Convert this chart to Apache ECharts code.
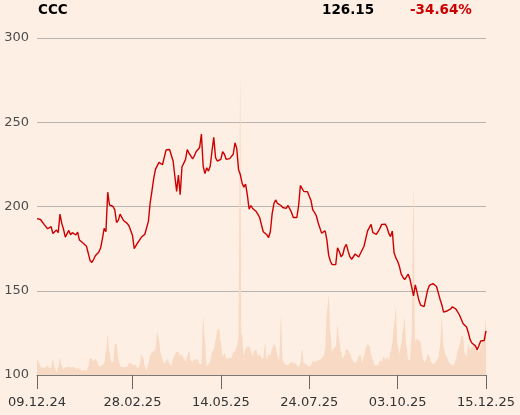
<!DOCTYPE html>
<html>
<head>
<meta charset="utf-8">
<script src="https://cdn.jsdelivr.net/npm/echarts@6/dist/echarts.min.js"></script>
<style>
html,body{margin:0;padding:0;background:#fdefe3;}
#c{width:520px;height:415px;}
</style>
</head>
<body>
<div id="c"></div>
<script>
const ticker = "CCC";
const lastPrice = "126.15";
const changePct = "-34.64%";
const tickLabels = ["09.12.24","28.02.25","14.05.25","24.07.25","03.10.25","15.12.25"];
const tickIdx = [0,54,104,154,204,254];
const price = [
192.8,192.6,192.3,190.8,189.4,188.8,186.8,187.4,188,184,
184.3,186,184.5,195.5,190,186.5,181.8,181.8,185.8,183.2,
184.5,184.2,183.1,184.8,180.1,180.4,178.3,177.5,176.4,176.2,
168,166.8,168.5,170.8,171.2,173,175.5,181,187,185,
208.5,201,200,200,198,190.5,191.8,195.5,193.5,191.7,
192,190,188.6,187.5,183,175,176,178.5,180,181.7,
182.4,183.5,183.2,191,202,209,216.5,222,221.8,226.2,
226.2,224.8,224.6,233.5,233.9,233.8,232.7,227,217.8,209,
218.7,207,223.4,223,227.8,233.8,231.6,230,228.2,230,
232.5,231.6,235,243,224,219.5,223,221,224,233,
241,229,227,226,228,232.5,231,228,227,228.4,
228.5,231,237.8,234.5,222,219,214,211.5,213.3,206.7,
198.4,200.6,198.8,199.1,197,195.3,193.3,189,185,184.2,
183.2,181.6,185,195.5,201.6,203.9,201.9,201.4,200.6,199.4,
198.9,198.9,200.6,201,196.5,193.5,192.5,193.5,200.5,212.5,
210.6,208.9,208.8,208.8,208.3,203.5,198,196.5,194.5,190.5,
190.4,184.2,185,185.6,180,171,167.5,165.5,164.5,165.5,
175.5,173.3,170.2,171.5,175.8,177.5,173.5,170.2,168.7,168.9,
171.8,171,170,171,174.3,176.4,177.1,185.5,185.5,189.4,
184.5,184,183.5,182.8,187,189.4,190.2,189.5,187.6,184,
182.1,185.5,172.5,169.5,167.5,164.5,160,158,156.6,157.5,
159.8,156.8,152,147,153.5,149,144.5,141.5,141.4,140.6,
141.3,150.5,153.2,152.3,154.3,154.5,152.5,152.6,145,141.7,
137.3,137,138,138,139.2,140.5,141.3,139.1,138,135.6,
134.5,130.5,129.5,128.5,125.2,121,119,118,117.3,115,
117.5,120.2,120.2,120.5,126.15
];
const volume = [
160,130,87,73,73,80,90,70,73,160,
77,30,73,170,93,60,77,77,87,73,
80,77,60,70,57,47,43,50,43,90,
170,160,140,160,137,90,90,100,117,227,
400,227,137,127,303,317,160,93,83,77,
77,83,117,120,103,103,93,67,93,210,
170,87,47,110,193,227,237,250,430,350,
213,160,110,140,157,110,93,160,207,233,
227,193,207,167,133,187,243,143,133,157,
157,150,110,107,580,350,93,107,137,227,
257,343,450,460,327,183,223,170,163,173,
170,227,237,283,360,2950,400,203,253,287,
283,243,193,243,250,193,203,170,170,317,
157,210,197,263,307,283,193,143,577,150,
113,103,100,117,133,117,117,100,83,117,
257,110,117,93,83,97,140,137,133,147,
150,167,183,250,617,790,417,233,270,283,
500,350,233,160,200,257,250,217,167,133,
123,140,190,200,127,190,273,307,293,207,
150,97,97,100,147,133,183,153,177,150,
233,317,500,667,300,217,300,450,567,283,
150,143,400,1870,343,357,350,327,190,133,
150,213,190,127,107,117,140,167,283,583,
283,213,173,130,113,93,107,157,243,300,
383,390,217,183,310,250,283,297,253,273,
230,283,327,400,600
];
const cats = price.map((_, i) => i);

const chart = echarts.init(document.getElementById('c'), null, {renderer: 'canvas'});
const isTick = (i) => tickIdx.indexOf(i) >= 0;
chart.setOption({
  backgroundColor: '#fdefe3',
  animation: false,
  textStyle: {fontFamily: 'DejaVu Sans'},
  grid: {left: 37, right: 34, top: 38, bottom: 40, containLabel: false},
  graphic: [
    {type: 'text', left: 38, top: 3, style: {text: ticker, font: 'bold 13.5px DejaVu Sans', fill: '#000'}},
    {type: 'text', left: 322, top: 3, style: {text: lastPrice, font: 'bold 13.5px DejaVu Sans', fill: '#000'}},
    {type: 'text', left: 410, top: 3, style: {text: changePct, font: 'bold 13.5px DejaVu Sans', fill: '#cc0000'}}
  ],
  xAxis: {
    type: 'category',
    data: cats,
    boundaryGap: false,
    axisLine: {show: true, lineStyle: {color: '#7a7a7a', width: 1}},
    axisTick: {show: true, length: 14, interval: (i) => isTick(i), lineStyle: {color: '#666', width: 1}},
    axisLabel: {
      interval: (i) => isTick(i),
      formatter: (v, i) => tickLabels[tickIdx.indexOf(i)] || '',
      color: '#333', fontSize: 13, margin: 21, fontFamily: 'DejaVu Sans'
    },
    splitLine: {show: false}
  },
  yAxis: [
    {
      type: 'value', min: 100, max: 300, interval: 50,
      axisLine: {show: false}, axisTick: {show: false},
      axisLabel: {color: '#4d4d4d', fontSize: 13, margin: 8, fontFamily: 'DejaVu Sans'},
      splitLine: {show: true, lineStyle: {color: '#b9b4af', width: 1}}
    },
    {
      type: 'value', min: 0, max: 3370, show: false,
      splitLine: {show: false}
    }
  ],
  series: [
    {
      type: 'line', yAxisIndex: 1, data: volume, symbol: 'none',
      smooth: 0.3, smoothMonotone: 'x',
      lineStyle: {width: 0}, areaStyle: {color: '#f8d9c3', opacity: 1},
      z: 1, silent: true
    },
    {
      type: 'line', yAxisIndex: 0, data: price, symbol: 'none',
      lineStyle: {color: '#cc0000', width: 1.4},
      z: 3, silent: true
    }
  ]
});
</script>
</body>
</html>
